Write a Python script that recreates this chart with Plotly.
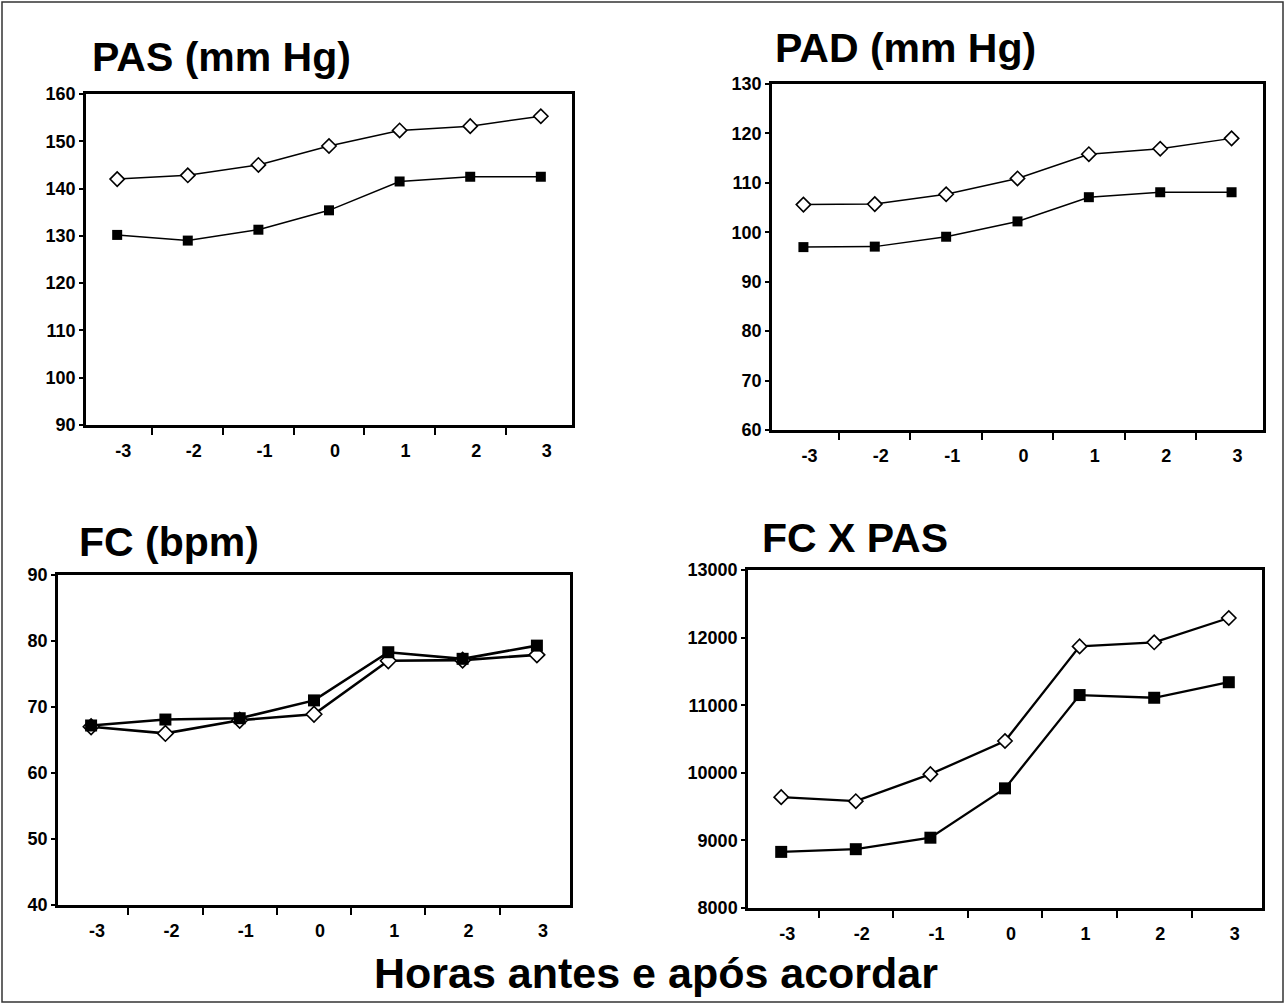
import plotly.graph_objects as go

# ---- data ----
horas = ["-3", "-2", "-1", "0", "1", "2", "3"]

pas_aberto = [142.0, 142.8, 145.0, 149.0, 152.3, 153.2, 155.3]
pas_fechado = [130.2, 129.0, 131.3, 135.4, 141.5, 142.5, 142.5]

pad_aberto = [105.6, 105.7, 107.7, 110.9, 115.8, 116.9, 119.0]
pad_fechado = [97.0, 97.1, 99.1, 102.2, 107.1, 108.1, 108.1]

fc_aberto = [67.0, 66.0, 68.0, 68.9, 77.0, 77.1, 77.9]
fc_fechado = [67.2, 68.1, 68.3, 71.0, 78.3, 77.3, 79.3]

fcpas_aberto = [9640, 9580, 9980, 10470, 11870, 11930, 12290]
fcpas_fechado = [8830, 8870, 9040, 9770, 11150, 11110, 11340]

titulos = ["PAS (mm Hg)", "PAD (mm Hg)", "FC (bpm)", "FC X PAS"]
titulo_x = "Horas antes e após acordar"

W, H = 1285, 1004
FONT = "Arial, Liberation Sans, Helvetica, sans-serif"


def fx(px):
    return px / W


def fy(py):
    return 1 - py / H


# panel pixel boxes: (left, right, top, bottom)
boxes = [(86, 572, 94, 425), (772, 1263, 84, 430), (58, 570, 575, 905), (748, 1262, 570, 908)]
yranges = [(90, 160, 10), (60, 130, 10), (40, 90, 10), (8000, 13000, 1000)]
series = [(pas_aberto, pas_fechado), (pad_aberto, pad_fechado), (fc_aberto, fc_fechado), (fcpas_aberto, fcpas_fechado)]
lw = [1.5, 1.5, 2.6, 2.3]
msq = [10, 10, 12, 12]
mdi = [11, 11, 12, 11]
title_pos = [(90, 57), (773, 48), (77, 542), (760, 538)]

fig = go.Figure()

for i in range(4):
    ax = "" if i == 0 else str(i + 1)
    ab, fe = series[i]
    fig.add_trace(go.Scatter(
        x=horas, y=ab, mode="lines+markers", xaxis="x" + ax, yaxis="y" + ax,
        line=dict(color="black", width=lw[i]),
        marker=dict(symbol="diamond", size=mdi[i], color="white", line=dict(color="black", width=1.6)),
        showlegend=False, cliponaxis=False))
    fig.add_trace(go.Scatter(
        x=horas, y=fe, mode="lines+markers", xaxis="x" + ax, yaxis="y" + ax,
        line=dict(color="black", width=lw[i]),
        marker=dict(symbol="square", size=msq[i], color="black", line=dict(color="black", width=0)),
        showlegend=False, cliponaxis=False))

    l, r, t, b = boxes[i]
    y0, y1, dt = yranges[i]
    axis_common = dict(showline=True, linewidth=2.5, linecolor="black", mirror=True,
                       showgrid=False, zeroline=False, ticks="outside", tickwidth=2,
                       tickcolor="black", automargin=False,
                       tickfont=dict(family=FONT, size=18, color="black", weight="bold"))
    fig.update_layout(**{
        "xaxis" + ax: dict(domain=[fx(l), fx(r)], anchor="y" + ax, type="category",
                           tickson="boundaries", ticklen=7, ticklabelstandoff=8,
                           ticklabelshift=6, **axis_common),
        "yaxis" + ax: dict(domain=[fy(b), fy(t)], anchor="x" + ax, range=[y0, y1],
                           dtick=dt, tick0=y0, ticklen=4, ticklabelstandoff=0,
                           tickformat="d", **axis_common),
    })
    tx, ty = title_pos[i]
    fig.add_annotation(x=fx(tx), y=fy(ty), xref="paper", yref="paper", xanchor="left",
                       yanchor="middle", showarrow=False, text="<b>" + titulos[i] + "</b>",
                       font=dict(family=FONT, size=41, color="black"))

fig.add_annotation(x=fx(656), y=fy(973), xref="paper", yref="paper", xanchor="center",
                   yanchor="middle", showarrow=False, text="<b>" + titulo_x + "</b>",
                   font=dict(family=FONT, size=43, color="black"))

fig.add_shape(type="rect", xref="paper", yref="paper", x0=fx(2), x1=fx(1283), y0=fy(1002), y1=fy(2),
              line=dict(color="#333333", width=1.5))

fig.update_layout(width=W, height=H, margin=dict(l=0, r=0, t=0, b=0, pad=0), autosize=False,
                  paper_bgcolor="white", plot_bgcolor="white")

fig.write_html("out.html", config={"displayModeBar": False, "responsive": False},
               post_script="document.body.style.margin='0';document.body.style.overflow='hidden';")
